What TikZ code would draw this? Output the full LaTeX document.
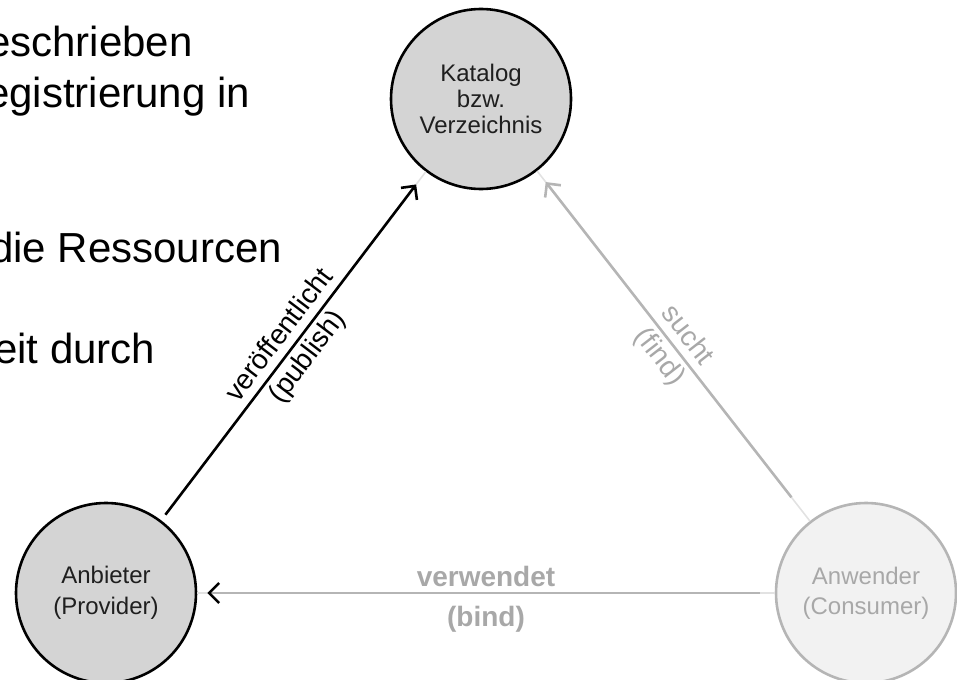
\documentclass[tikz,border=0pt]{standalone}
\usepackage{fontspec}
\setmainfont{Liberation Sans}
\usetikzlibrary{arrows.meta}

\definecolor{nodefill}{HTML}{D4D4D4}
\definecolor{palefill}{HTML}{F2F2F2}
\definecolor{paleline}{HTML}{B5B5B5}
\definecolor{paletext}{HTML}{A8A8A8}
\definecolor{tracegray}{HTML}{E2E2E2}

\begin{document}
\begin{tikzpicture}[x=1pt,y=-1pt,
  role/.style={circle, minimum size=180pt, inner sep=0pt, line width=2.6pt, align=center},
  active/.style={role, draw=black, fill=nodefill, text=black!88},
  passive/.style={role, draw=paleline, fill=palefill, text=paletext},
  linktip/.style={-{Straight Barb[length=10pt,width=20pt]}},
  darklink/.style={draw=black, line width=2.6pt, linktip},
  palelink/.style={draw=paleline, line width=2.6pt, linktip},
  trace/.style={draw=tracegray, line width=1.6pt},
  edgelabel/.style={inner sep=0pt, font=\fontsize{28}{30}\selectfont},
  boldlabel/.style={inner sep=0pt, text=paletext, font=\fontsize{28}{30}\selectfont\bfseries},
  bodytext/.style={anchor=base west, inner sep=0pt, font=\fontsize{42}{48}\selectfont}
]
\useasboundingbox (0,0) rectangle (957,679);

% running text of the page, cut at the left margin
\node[bodytext] (line1) at (-13,57)  {eschrieben};
\node[bodytext] (line2) at (-14,108) {egistrierung in};
\node[bodytext] (line3) at (-10,262) {die Ressourcen};
\node[bodytext] (line4) at (-6,363)  {eit durch};

% the three roles
\node[active, font=\fontsize{24}{26}\selectfont]  (cat)  at (481,99)  {Katalog\\bzw.\\Verzeichnis};
\node[active, font=\fontsize{24}{31}\selectfont]  (prov) at (106,593) {Anbieter\\(Provider)};
\node[passive, font=\fontsize{24}{30}\selectfont] (cons) at (866,593) {Anwender\\(Consumer)};

% faint ends of the connectors next to the circles
\draw[trace, shorten <=7pt] (prov) -- (cat);
\draw[trace] (cons) -- (cat);
\draw[trace] (cons) -- (prov);

% publish
\draw[darklink, shorten <=7pt, shorten >=16pt] (prov) --
  node[edgelabel, sloped, above=8pt] (publab) {veröffentlicht}
  node[edgelabel, sloped, below=4pt] (pubsub) {(publish)} (cat);

% find
\draw[palelink, shorten <=30pt, shorten >=14pt] (cons) --
  node[edgelabel, text=paletext, sloped, above=8pt] (findlab) {sucht}
  node[edgelabel, text=paletext, sloped, below=4pt] (findsub) {(find)} (cat);

% bind
\draw[draw=paleline, line width=2.6pt, -{Straight Barb[length=10pt,width=20pt,color=black]},
      shorten <=15pt, shorten >=10pt] (cons) --
  node[boldlabel, above=5pt] (bindlab) {verwendet}
  node[boldlabel, below=12pt] (bindsub) {(bind)} (prov);
\end{tikzpicture}
\end{document}
